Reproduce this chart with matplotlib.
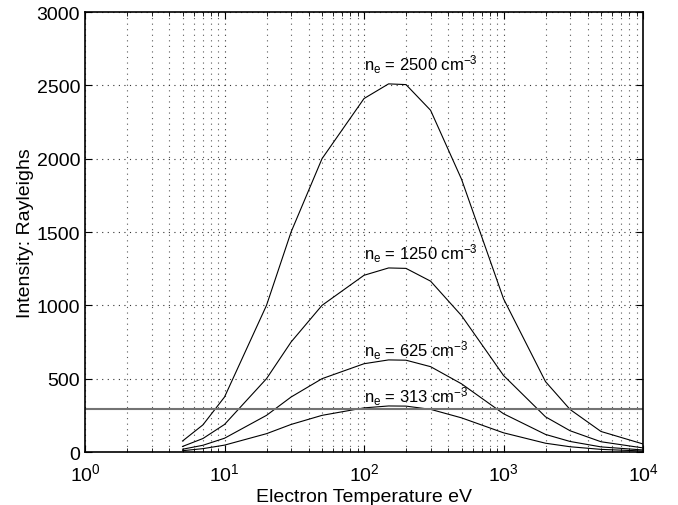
import numpy as np
import matplotlib
matplotlib.use("Agg")
from matplotlib import pyplot as plt
from matplotlib.ticker import LogLocator, NullFormatter

plt.rcParams['font.family'] = ['Liberation Sans', 'DejaVu Sans']
plt.rcParams['mathtext.default'] = 'regular'

# electron temperature (eV)
temps = [5, 7, 10, 20, 30, 50, 100, 150, 200, 300, 500, 1000, 2000, 3000, 5000, 10000]

# intensity (Rayleighs) for each density
i_2500 = [75, 185, 375, 1000, 1500, 2000, 2410, 2510, 2505, 2330, 1860, 1045, 480, 290, 140, 55]
i_1250 = [38, 92, 188, 500, 750, 1000, 1205, 1255, 1252, 1165, 930, 522, 240, 145, 70, 28]
i_625 = [19, 46, 94, 250, 375, 500, 602, 628, 626, 582, 465, 261, 120, 72, 35, 14]
i_313 = [9, 23, 47, 125, 188, 250, 301, 314, 313, 291, 233, 131, 60, 36, 18, 7]

labels = ['2500', '1250', '625', '313']
label_x = [100, 100, 100, 100]
label_y = [2650, 1360, 700, 385]

threshold = 295

fig = plt.figure(figsize=(6.78, 5.06), dpi=100)
ax = fig.add_axes([0.1254, 0.1047, 0.823, 0.8696])

for curve in (i_2500, i_1250, i_625, i_313):
    ax.plot(temps, curve, color='black', lw=0.8)

ax.axhline(threshold, color='0.45', lw=1.5)

for lab, tx, ty in zip(labels, label_x, label_y):
    ax.text(tx, ty, 'n$_e$ = ' + lab + ' cm$^{-3}$', fontsize=12,
            ha='left', va='center')

ax.set_xscale('log')
ax.set_xlim(1, 1e4)
ax.set_ylim(0, 3000)
ax.set_yticks(np.arange(0, 3001, 500))
ax.xaxis.set_major_locator(LogLocator(base=10, numticks=10))
ax.xaxis.set_minor_locator(LogLocator(base=10, subs=np.arange(2, 10), numticks=20))
ax.xaxis.set_minor_formatter(NullFormatter())

# matlab style dotted grid
ax.grid(True, which='major', linestyle=(0, (1, 4)), color='0.2', lw=0.8)
ax.grid(True, which='minor', axis='x', linestyle=(0, (1, 4)), color='0.35', lw=0.8)

ax.tick_params(which='both', direction='in', top=True, right=True, labelsize=14)
ax.tick_params(which='major', length=5)
ax.tick_params(which='minor', length=3)
ax.tick_params(axis='x', which='major', pad=7)
for s in ax.spines.values():
    s.set_linewidth(1.2)

ax.set_xlabel('Electron Temperature eV', fontsize=14, labelpad=3)
ax.set_ylabel('Intensity: Rayleighs', fontsize=14, labelpad=2)

fig.savefig('out.png', dpi=100)
